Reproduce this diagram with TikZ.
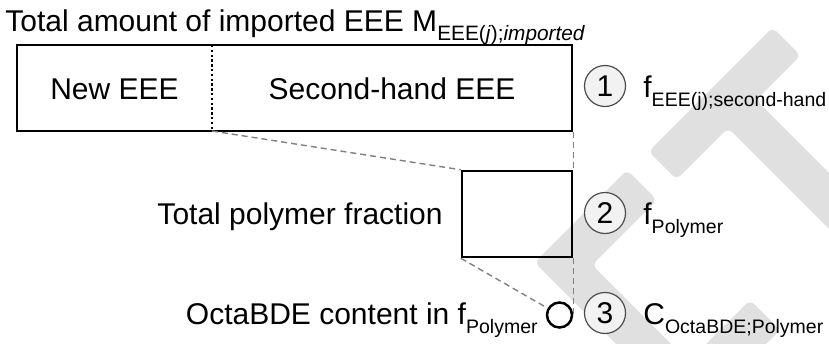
\documentclass[tikz,border=0pt]{standalone}
\usepackage{fontspec}
\setmainfont{Liberation Sans}
\newcommand{\lowsub}[1]{\raisebox{-4.5pt}{\fontsize{9.75}{11}\selectfont #1}}
\newcommand{\titlesub}[1]{\raisebox{-4.5pt}{\fontsize{10.4}{12}\selectfont #1}}
\begin{document}
\begin{tikzpicture}[x=0.5pt,y=-0.5pt, font=\fontsize{15}{18}\selectfont,
  wm/.style={fill=gray!24, rounded corners=3pt},
  box/.style={draw=black, line width=1.25pt, inner sep=0pt},
  num/.style={circle, draw=gray!60!black, line width=0.6pt, fill=gray!10, minimum size=20.5pt, inner sep=0pt},
  guide/.style={draw=gray, line width=0.7pt, dash pattern=on 3pt off 2pt},
  divider/.style={draw=black, line width=1pt, dash pattern=on 1.2pt off 1.2pt},
  lbl/.style={inner sep=0pt}]
\useasboundingbox (0,0) rectangle (829,343);
% watermark
\begin{scope}
\clip (0,0) rectangle (829,343);
\fill[wm] (648.5,151.5) -- (772.5,27.5) -- (800.5,55.5) -- (756,100) -- (978,322) -- (950,350) -- (728,128) -- (676.5,179.5) -- cycle;
\fill[wm] (627,170) -- (657,200) -- (592,265) -- (727,400) -- (672,400) -- (534.5,262.5) -- cycle;
\fill[wm] (750,300) -- (780,330) -- (710,400) -- (650,400) -- cycle;
\end{scope}
% title
\node[lbl, anchor=base west] (title) at (5,31) {Total amount of imported EEE M\titlesub{EEE(\textit{j});\textit{imported}}};
% big box
\node[box, minimum width=277.5pt, minimum height=43pt] (big) at (294.5,88) {};
\coordinate (divtop) at (212,45);
\coordinate (divbot) at (212,131);
\draw[divider] (divtop) -- (divbot);
\node[lbl, anchor=base] (new) at (114.5,99) {New EEE};
\node[lbl, anchor=base] (second) at (392,99) {Second-hand EEE};
% polymer box
\node[box, minimum width=55pt, minimum height=43pt] (poly) at (517,214) {};
\node[lbl, anchor=base east] (tpf) at (443,224) {Total polymer fraction};
% small circle
\node[circle, draw=black, line width=1.25pt, minimum size=12.5pt, inner sep=0pt] (oc) at (559.5,315) {};
\node[lbl, anchor=base east] (obc) at (538,324) {OctaBDE content in f\lowsub{Polymer}};
% guides
\draw[guide] (divbot) -- (poly.north west);
\draw[guide] (big.south east) -- (poly.north east);
\draw[guide] (poly.south west) -- (oc);
\draw[guide] (poly.south east) -- (oc.east);
% numbered steps
\node[num] (n1) at (605,86) {1};
\node[num] (n2) at (605,213) {2};
\node[num] (n3) at (605,313) {3};
\node[lbl, anchor=base west] (f1) at (643,97) {f\lowsub{EEE(j);second-hand}};
\node[lbl, anchor=base west] (f2) at (643,224) {f\lowsub{Polymer}};
\node[lbl, anchor=base west] (c3) at (643,324) {C\lowsub{OctaBDE;Polymer}};
\end{tikzpicture}
\end{document}
